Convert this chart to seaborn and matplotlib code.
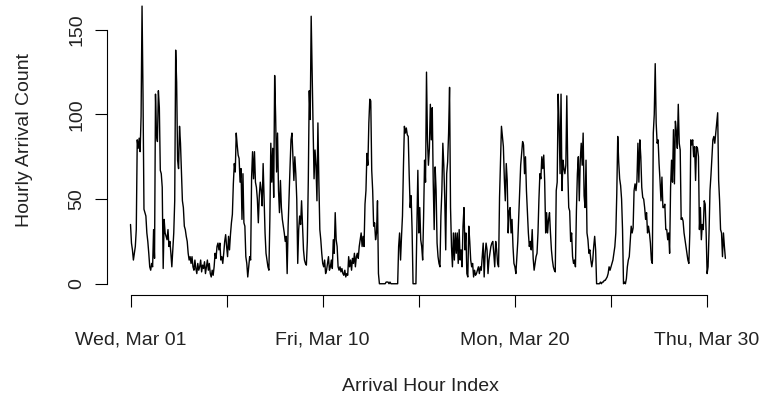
import matplotlib
matplotlib.use("Agg")
import matplotlib.pyplot as plt
import numpy as np
import pandas as pd
import seaborn as sns

# Hourly arrival counts, in order of arrival hour index (0 .. 619)
counts_000_099 = [
    35, 24, 20, 14, 18, 22, 32, 85, 80, 86,
    78, 99, 164, 112, 44, 42, 40, 30, 25, 18,
    10, 8, 12, 10, 32, 15, 112, 88, 84, 114,
    104, 67, 65, 57, 9, 38, 30, 28, 26, 32,
    22, 25, 18, 10, 20, 30, 49, 138, 119, 73,
    68, 93, 83, 65, 49, 45, 34, 32, 28, 25,
    18, 14, 16, 12, 16, 10, 8, 14, 9, 6,
    12, 8, 10, 14, 7, 11, 9, 13, 6, 10,
    14, 8, 12, 6, 4, 8, 5, 10, 18, 15,
    22, 24, 20, 24, 14, 16, 12, 18, 25, 29,
]
counts_100_199 = [
    22, 16, 28, 20, 29, 36, 41, 59, 71, 66,
    89, 82, 76, 74, 60, 68, 38, 65, 36, 34,
    16, 12, 4, 10, 16, 14, 63, 78, 62, 78,
    60, 57, 50, 36, 52, 60, 55, 46, 71, 51,
    30, 18, 14, 10, 8, 38, 83, 60, 80, 51,
    123, 99, 66, 89, 55, 42, 61, 45, 38, 34,
    30, 25, 28, 6, 34, 52, 69, 85, 89, 75,
    61, 75, 65, 50, 12, 32, 40, 35, 49, 34,
    20, 14, 12, 11, 25, 61, 114, 97, 158, 124,
    92, 62, 79, 70, 49, 95, 60, 32, 26, 18,
]
counts_200_299 = [
    12, 10, 14, 6, 8, 12, 16, 8, 10, 14,
    9, 26, 18, 42, 26, 22, 10, 8, 10, 7,
    9, 6, 5, 8, 4, 6, 5, 16, 10, 14,
    8, 15, 12, 18, 10, 16, 18, 15, 22, 26,
    30, 22, 28, 22, 47, 55, 77, 70, 95, 109,
    108, 67, 55, 34, 36, 26, 30, 49, 6, 0,
    0, 0, 0, 0, 0, 0, 1, 1, 1, 0,
    1, 0, 0, 0, 0, 0, 0, 0, 0, 22,
    30, 14, 28, 40, 69, 93, 89, 92, 88, 87,
    64, 45, 52, 32, 0, 0, 0, 0, 34, 67,
]
counts_300_399 = [
    30, 45, 26, 22, 14, 40, 73, 60, 125, 85,
    70, 80, 106, 85, 104, 60, 32, 69, 55, 24,
    16, 12, 10, 40, 55, 83, 70, 50, 20, 65,
    72, 89, 116, 45, 22, 10, 30, 14, 30, 18,
    30, 12, 32, 14, 20, 10, 34, 45, 20, 30,
    6, 4, 34, 25, 14, 10, 12, 4, 8, 5,
    6, 8, 10, 6, 10, 8, 16, 24, 4, 18,
    24, 20, 6, 14, 18, 22, 24, 25, 18, 10,
    25, 20, 12, 10, 51, 73, 93, 87, 81, 62,
    49, 71, 61, 30, 43, 45, 30, 38, 22, 12,
]
counts_400_499 = [
    10, 6, 16, 25, 40, 55, 70, 77, 84, 82,
    65, 75, 55, 42, 30, 22, 25, 20, 32, 15,
    8, 12, 16, 18, 30, 50, 65, 62, 75, 68,
    76, 60, 30, 42, 30, 38, 42, 30, 20, 14,
    10, 8, 7, 55, 60, 112, 93, 65, 112, 55,
    73, 68, 65, 70, 111, 67, 45, 43, 25, 30,
    16, 12, 14, 10, 43, 65, 75, 49, 73, 83,
    70, 89, 52, 45, 73, 30, 26, 18, 20, 14,
    10, 14, 22, 28, 20, 0, 0, 0, 0, 1,
    0, 1, 1, 2, 2, 3, 4, 6, 10, 8,
]
counts_500_619 = [
    10, 12, 14, 18, 22, 30, 53, 87, 72, 62,
    58, 50, 32, 0, 1, 0, 3, 10, 14, 16,
    25, 34, 30, 33, 55, 59, 55, 61, 83, 60,
    85, 75, 57, 51, 50, 45, 38, 42, 30, 34,
    30, 24, 14, 12, 89, 100, 130, 95, 83, 85,
    71, 61, 49, 63, 45, 45, 47, 32, 32, 26,
    30, 18, 57, 73, 60, 91, 59, 96, 90, 80,
    106, 83, 79, 38, 39, 37, 30, 26, 22, 18,
    14, 12, 30, 85, 82, 85, 75, 81, 61, 81,
    80, 75, 32, 45, 26, 35, 32, 49, 47, 30,
    6, 10, 30, 55, 64, 75, 85, 87, 83, 89,
    95, 101, 61, 49, 32, 30, 16, 30, 22, 15,
]

tick_hours = [0, 100, 200, 300, 400, 500, 600]
tick_dates = ["Wed, Mar 01", "", "Fri, Mar 10", "", "Mon, Mar 20", "", "Thu, Mar 30"]
y_ticks = [0, 50, 100, 150]

counts = (counts_000_099 + counts_100_199 + counts_200_299
          + counts_300_399 + counts_400_499 + counts_500_619)
df = pd.DataFrame({"hour": np.arange(len(counts)), "count": counts})

sns.set_style("white")
plt.rcParams["font.family"] = ["Liberation Sans", "DejaVu Sans"]

fig = plt.figure(figsize=(7.62, 4.04), dpi=100)
ax = fig.add_axes([0.1400, 0.2700, 0.8432, 0.7300])

sns.lineplot(data=df, x="hour", y="count", color="black", linewidth=1.0, ax=ax)

ax.set_xlim(-24.8, 643.8)
ax.set_ylim(-6.6, 167.6)

for side in ("top", "right"):
    ax.spines[side].set_visible(False)
for side in ("left", "bottom"):
    ax.spines[side].set_color("black")
    ax.spines[side].set_linewidth(0.8)
ax.spines["left"].set_bounds(0, 150)
ax.spines["bottom"].set_bounds(0, 600)

ax.set_xticks(tick_hours)
ax.set_xticklabels(tick_dates)
ax.set_yticks(y_ticks)
ax.set_yticklabels([str(v) for v in y_ticks])
ax.tick_params(axis="both", direction="out", length=8.6, width=0.8,
               color="black", labelsize=14, labelcolor="#222222",
               bottom=True, left=True)
ax.tick_params(axis="x", pad=18)
ax.tick_params(axis="y", pad=7)
for lab in ax.get_yticklabels():
    lab.set_rotation(90)
    lab.set_va("center")

ax.set_xlabel("Arrival Hour Index", fontsize=14, color="#222222")
ax.set_ylabel("Hourly Arrival Count", fontsize=14, color="#222222")
ax.xaxis.set_label_coords(0.489, -0.283)
ax.yaxis.set_label_coords(-0.115, 0.525)

fig.savefig("out.png", dpi=100, facecolor="white")
